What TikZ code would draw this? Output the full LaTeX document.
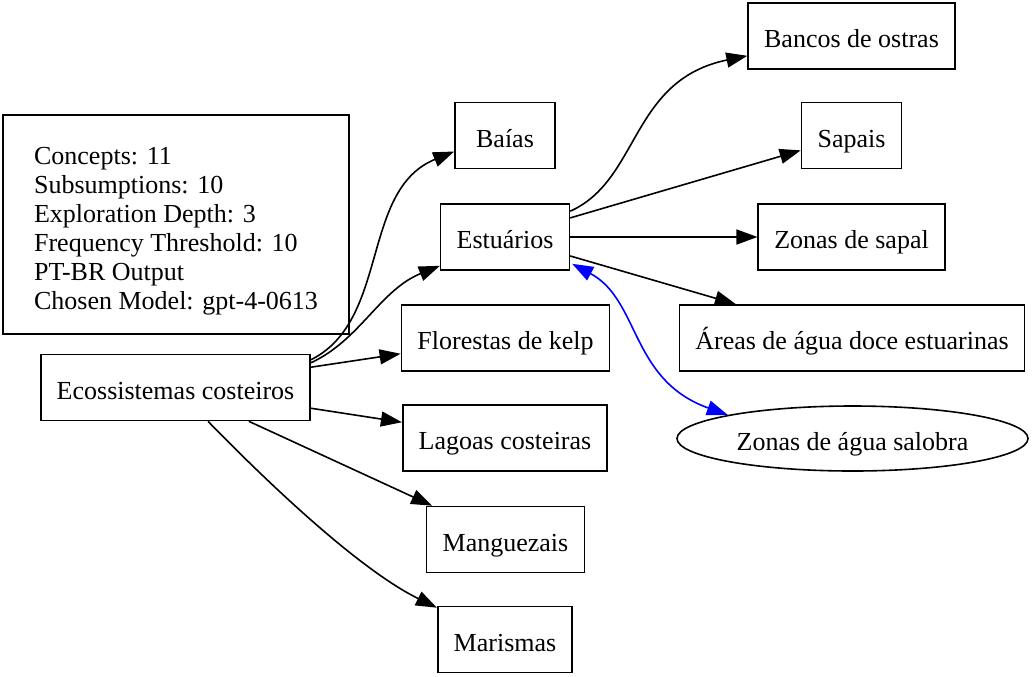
\documentclass[tikz,border=0pt]{standalone}
\usepackage{fontspec}
\setmainfont{Liberation Serif}
\usetikzlibrary{arrows.meta, calc, shapes.geometric}

\begin{document}
\begin{tikzpicture}[x=0.5pt, y=-0.5pt,
    concept/.style={draw=borderColour, line width=0.8pt, rectangle, inner xsep=8pt,
        text height=11.5pt, text depth=0pt,
        minimum width=50pt, minimum height=33pt, font=\fontsize{13}{14.5}\selectfont},
    infobox/.style={draw=borderColour, line width=0.8pt, rectangle, align=left,
        minimum width=173pt, minimum height=109.5pt, font=\fontsize{13}{14.5}\selectfont},
    roundconcept/.style={concept, ellipse, inner sep=0pt, minimum width=175.5pt, minimum height=32.5pt},
    subsumes/.style={draw=borderColour, line width=0.8pt, -{Triangle[length=10.5pt,width=7.5pt]}},
    relates/.style={draw=linkColour, line width=0.8pt, {Triangle[length=10.5pt,width=7.5pt]}-{Triangle[length=10.5pt,width=7.5pt]}}]
    % Define colours
    \definecolor{borderColour}{HTML}{000000}
    \definecolor{linkColour}{HTML}{0000FF}

    % Fix the page size
    \useasboundingbox (0,0) rectangle (1033,676);

    % Info box
    \node[infobox] (info) at (176,224.5) {\rule{0pt}{15pt}Concepts: 11\\Subsumptions: 10\\Exploration Depth: 3\\Frequency Threshold: 10\\PT-BR Output\\Chosen Model: gpt-4-0613};

    % Root concept
    \node[concept] (eco) at (175.5,387.5) {Ecossistemas costeiros};

    % First level
    \node[concept] (baias) at (505,135.5) {Baías};
    \node[concept] (estu) at (505,237) {Estuários};
    \node[concept] (kelp) at (505.5,338) {Florestas de kelp};
    \node[concept] (lagoas) at (505,438) {Lagoas costeiras};
    \node[concept] (mangue) at (505.5,539.5) {Manguezais};
    \node[concept] (maris) at (505,639.5) {Marismas};

    % Second level
    \node[concept] (ostras) at (851.5,36) {Bancos de ostras};
    \node[concept] (sapais) at (851.5,135.5) {Sapais};
    \node[concept] (sapal) at (851.5,237) {Zonas de sapal};
    \node[concept] (doce) at (852,338) {Áreas de água doce estuarinas};
    \node[roundconcept] (salobra) at (852.5,438.5) {Zonas de água salobra};

    % Edges from the root
    \draw[subsumes] ($(eco.north east)+(0,6)$) .. controls (390,320) and (360,190) .. ($(baias.west)+(0,16)$);
    \draw[subsumes] ($(eco.north east)+(0,9)$) .. controls (360,340) and (380,290) .. ($(estu.south west)+(0,-5)$);
    \draw[subsumes] (eco) -- (kelp);
    \draw[subsumes] (eco) -- (lagoas);
    \draw[subsumes] (eco) -- (mangue);
    \draw[subsumes] ($(eco.south)+(32.5,0)$) .. controls (270,485) and (360,570) .. ($(maris.north west)+(0,2)$);

    % Edges from Estuarios
    \draw[subsumes] ($(estu.north east)+(0,8)$) .. controls (640,180) and (630,80) .. ($(ostras.south west)+(0,-14)$);
    \draw[subsumes] (estu) -- (sapais);
    \draw[subsumes] (estu) -- (sapal);
    \draw[subsumes] (estu) -- (doce);
    \draw[relates] ($(estu.south east)+(2,-7)$) .. controls (640,300) and (630,380) .. (salobra.north west);

\end{tikzpicture}
\end{document}
